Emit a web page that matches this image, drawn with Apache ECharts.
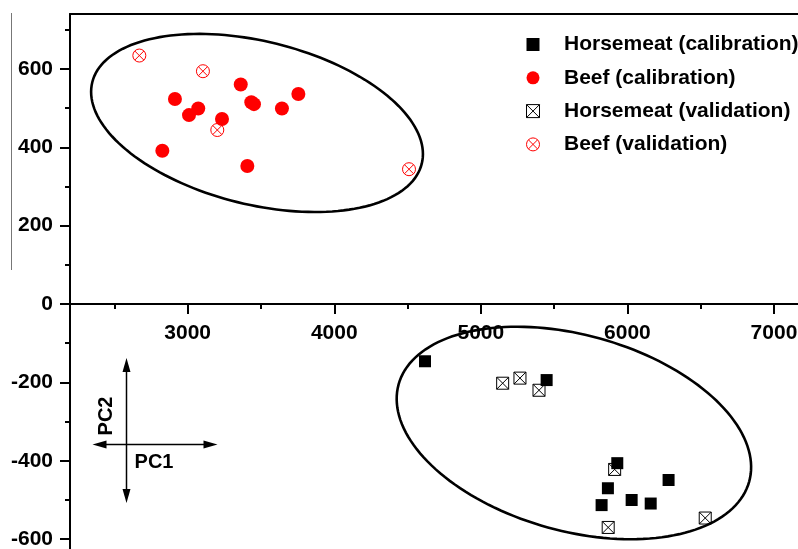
<!DOCTYPE html>
<html>
<head>
<meta charset="utf-8">
<script src="https://cdn.jsdelivr.net/npm/echarts@6/dist/echarts.min.js"></script>
<style>
html, body { margin: 0; padding: 0; background: #fff; }
#pca-chart { width: 798px; height: 549px; }
</style>
</head>
<body>
<div id="pca-chart"></div>
<script>
// PC1 / PC2 scores
var horseCal = [[4619, -146], [5449, -194], [5931, -406], [5867, -470], [5824, -513],
  [6029, -500], [6159, -509], [6281, -449]];
var beefCal = [[2913, 523], [3009, 482], [3072, 499], [3234, 472], [3362, 560], [3434, 515],
  [3452, 510], [3643, 499], [3755, 536], [2827, 391], [3407, 352]];
var horseVal = [[5149, -202], [5267, -189], [5397, -220], [5913, -422], [5869, -570], [6531, -546]];
var beefVal = [[2670, 634], [3104, 594], [3202, 444], [4510, 344]];
// ellipses: centre x, centre y, then the two semi-axis vectors (data units)
var ellipses = [[3473, 462, 1124, -104, -134, -202], [5635, -329, 1196, -124, -178, -241]];

var xMajor = [3000, 4000, 5000, 6000, 7000];
var xMinor = [2500, 3500, 4500, 5500, 6500];
var yMajor = [-600, -400, -200, 0, 200, 400, 600];
var yMinor = [-500, -300, -100, 100, 300, 500, 700];

var FONT = 'Arial, "Liberation Sans", sans-serif';
var squareIcon = 'path://M0,0L12,0L12,12L0,12Z';
var boxCross = 'path://M0,0L12,0L12,12L0,12Z M0,0L12,12 M12,0L0,12';
var circleCross = 'path://M12,6A6,6,0,1,1,0,6A6,6,0,1,1,12,6Z M1.8,1.8L10.2,10.2 M10.2,1.8L1.8,10.2';

var chart = echarts.init(document.getElementById('pca-chart'));

var gridTop = 14, gridBottom = 0, gridLeft = 70;
var yMin = -625, yMax = 740;
var gridH = 549 - gridTop - gridBottom;
// lift the bottom x axis up to the y = 0 line
var zeroOffset = -gridH * (0 - yMin) / (yMax - yMin);

var xBase = { type: 'value', min: 2197, max: 7164, splitLine: { show: false } };
var yBase = { type: 'value', min: yMin, max: yMax, splitLine: { show: false } };
var plainNum = function (v) { return String(v); };
var labelStyle = { color: '#000', fontSize: 21, fontWeight: 'bold', fontFamily: FONT, formatter: plainNum };

var option = {
  animation: false,
  backgroundColor: '#fff',
  grid: { left: gridLeft, right: 0, top: gridTop, bottom: gridBottom, containLabel: false, outerBoundsMode: 'none' },
  xAxis: [
    Object.assign({}, xBase, {
      position: 'bottom',
      offset: zeroOffset,
      axisLine: { show: true, onZero: false, lineStyle: { color: '#000', width: 2 } },
      axisTick: { show: true, customValues: xMajor, length: 10, lineStyle: { color: '#000', width: 2 } },
      axisLabel: Object.assign({ show: true, customValues: xMajor, margin: 19 }, labelStyle)
    }),
    Object.assign({}, xBase, {
      position: 'bottom',
      offset: zeroOffset,
      axisLine: { show: false, onZero: false },
      axisTick: { show: true, customValues: xMinor, length: 5, lineStyle: { color: '#000', width: 2 } },
      axisLabel: { show: false }
    }),
    Object.assign({}, xBase, {
      position: 'top',
      axisLine: { show: true, onZero: false, lineStyle: { color: '#000', width: 2 } },
      axisTick: { show: false },
      axisLabel: { show: false }
    })
  ],
  yAxis: [
    Object.assign({}, yBase, {
      position: 'left',
      axisLine: { show: true, onZero: false, lineStyle: { color: '#000', width: 2 } },
      axisTick: { show: true, customValues: yMajor, length: 10, lineStyle: { color: '#000', width: 2 } },
      axisLabel: Object.assign({ show: true, customValues: yMajor, margin: 17 }, labelStyle)
    }),
    Object.assign({}, yBase, {
      position: 'left',
      axisLine: { show: false, onZero: false },
      axisTick: { show: true, customValues: yMinor, length: 5, lineStyle: { color: '#000', width: 2 } },
      axisLabel: { show: false }
    })
  ],
  legend: {
    orient: 'vertical',
    left: 526,
    top: 34,
    padding: 0,
    itemGap: 12.3,
    itemWidth: 52,
    itemHeight: 13,
    selectedMode: false,
    textStyle: { color: '#000', fontSize: 21, fontWeight: 'bold', fontFamily: FONT, lineHeight: 21 },
    data: [
      { name: 'Horsemeat (calibration)', icon: squareIcon, itemStyle: { borderWidth: 0 } },
      { name: 'Beef (calibration)', icon: 'circle', itemStyle: { borderWidth: 0 } },
      { name: 'Horsemeat (validation)', icon: boxCross, itemStyle: { borderWidth: 1 } },
      { name: 'Beef (validation)', icon: circleCross, itemStyle: { borderWidth: 1 } }
    ]
  },
  graphic: [
    { type: 'line', shape: { x1: 11.5, y1: 13, x2: 11.5, y2: 270 }, style: { stroke: '#777', lineWidth: 1 } },
    { type: 'line', shape: { x1: 126.5, y1: 365, x2: 126.5, y2: 497 }, style: { stroke: '#000', lineWidth: 1.5 } },
    { type: 'polygon', shape: { points: [[126.5, 358], [122.5, 372], [130.5, 372]] }, style: { fill: '#000' } },
    { type: 'polygon', shape: { points: [[126.5, 503], [122.5, 489], [130.5, 489]] }, style: { fill: '#000' } },
    { type: 'line', shape: { x1: 99, y1: 444.5, x2: 211, y2: 444.5 }, style: { stroke: '#000', lineWidth: 1.5 } },
    { type: 'polygon', shape: { points: [[92.5, 444.5], [106.5, 440.5], [106.5, 448.5]] }, style: { fill: '#000' } },
    { type: 'polygon', shape: { points: [[217.5, 444.5], [203.5, 440.5], [203.5, 448.5]] }, style: { fill: '#000' } },
    {
      type: 'text', x: 106, y: 416, rotation: Math.PI / 2,
      style: { text: 'PC2', fill: '#000', font: 'bold 20px ' + FONT, align: 'center', verticalAlign: 'middle' }
    },
    {
      type: 'text', x: 154, y: 462,
      style: { text: 'PC1', fill: '#000', font: 'bold 20px ' + FONT, align: 'center', verticalAlign: 'middle' }
    }
  ],
  series: [
    {
      name: 'ellipse',
      type: 'custom',
      silent: true,
      data: ellipses,
      encode: { x: 0, y: 1 },
      renderItem: function (params, api) {
        var cx = api.value(0), cy = api.value(1);
        var ux = api.value(2), uy = api.value(3);
        var vx = api.value(4), vy = api.value(5);
        var pts = [];
        for (var i = 0; i < 160; i++) {
          var t = i / 160 * 2 * Math.PI;
          var c = Math.cos(t), s = Math.sin(t);
          pts.push(api.coord([cx + ux * c + vx * s, cy + uy * c + vy * s]));
        }
        return {
          type: 'polygon',
          shape: { points: pts },
          style: { fill: 'none', stroke: '#000', lineWidth: 2.6 }
        };
      }
    },
    {
      name: 'Horsemeat (calibration)',
      type: 'scatter',
      symbol: squareIcon,
      symbolSize: 12,
      itemStyle: { color: '#000', opacity: 1 },
      data: horseCal
    },
    {
      name: 'Beef (calibration)',
      type: 'scatter',
      symbol: 'circle',
      symbolSize: 14,
      itemStyle: { color: '#ff0000', opacity: 1 },
      data: beefCal
    },
    {
      name: 'Horsemeat (validation)',
      type: 'scatter',
      symbol: boxCross,
      symbolSize: 12,
      itemStyle: { color: 'rgba(255,255,255,0)', borderColor: '#000', borderWidth: 1, opacity: 1 },
      data: horseVal
    },
    {
      name: 'Beef (validation)',
      type: 'scatter',
      symbol: circleCross,
      symbolSize: 13,
      itemStyle: { color: 'rgba(255,255,255,0)', borderColor: '#ff0000', borderWidth: 1, opacity: 1 },
      data: beefVal
    }
  ]
};

chart.setOption(option);
</script>
</body>
</html>
